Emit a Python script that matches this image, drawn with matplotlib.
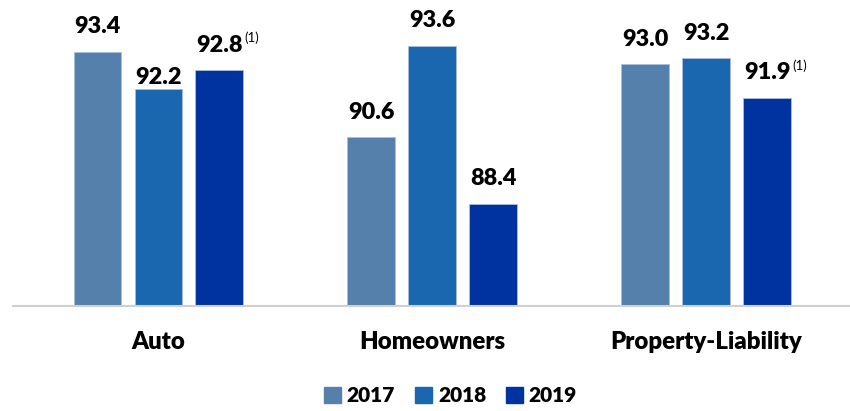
import numpy as np
import matplotlib
matplotlib.use("Agg")
from matplotlib import pyplot as plt
from matplotlib.patches import Patch

# data
categories = ["Auto", "Homeowners", "Property-Liability"]
years = ["2017", "2018", "2019"]
vals_2017 = [93.4, 90.6, 93.0]
vals_2018 = [92.2, 93.6, 93.2]
vals_2019 = [92.8, 88.4, 91.9]
footnote = [["", "", "(1)"], ["", "", ""], ["", "", "(1)"]]  # [category][year]

colors = ["#5580AB", "#1A67AF", "#0033A0"]
fam = ["Lato", "DejaVu Sans"]

fig = plt.figure(figsize=(8.5, 4.11), dpi=100)
ax = fig.add_axes([13 / 850, 105 / 411, 837 / 850, 306 / 411])

x = np.arange(len(categories))
width = 0.175
step = 0.2226
series = [vals_2017, vals_2018, vals_2019]

for i, (vals, c) in enumerate(zip(series, colors)):
    xs = x + (i - 1) * step
    ax.bar(xs, vals, width=width, color=c, edgecolor="#A8BFDC", linewidth=0.6, zorder=2)
    for j, v in enumerate(vals):
        # the 2018 auto label sits tight on its bar in the original
        pad = 0.17 if (i == 1 and j == 0) else 0.62
        t = ax.text(xs[j], v + pad, f"{v:.1f}", ha="center", va="baseline",
                    fontsize=16.8, fontweight="heavy", family=fam)
        if footnote[j][i]:
            ax.annotate(footnote[j][i], xy=(1.0, 1.0), xycoords=t,
                        xytext=(1, 2), textcoords="offset points",
                        ha="left", va="top", fontsize=9.5, family=fam)

ax.set_ylim(85.05, 95.12)
ax.set_xlim(-0.531, 2.524)
ax.set_yticks([])
ax.set_xticks(x)
ax.set_xticklabels(categories, fontsize=17.3, fontweight="heavy", family=fam)
ax.tick_params(axis="x", length=0, pad=18)
for s in ["top", "right", "left"]:
    ax.spines[s].set_visible(False)
ax.spines["bottom"].set_color("#D0D0D0")
ax.spines["bottom"].set_linewidth(1.5)

handles = [Patch(color=c) for c in colors]
fig.legend(handles, years, loc="lower center", bbox_to_anchor=(0.53, -0.017), ncol=3,
           frameon=False, borderpad=0.1, handlelength=0.8, handleheight=0.8,
           handletextpad=0.3, columnspacing=0.95,
           prop={"family": fam, "weight": "heavy", "size": 15})

fig.savefig("out.png", dpi=100)
